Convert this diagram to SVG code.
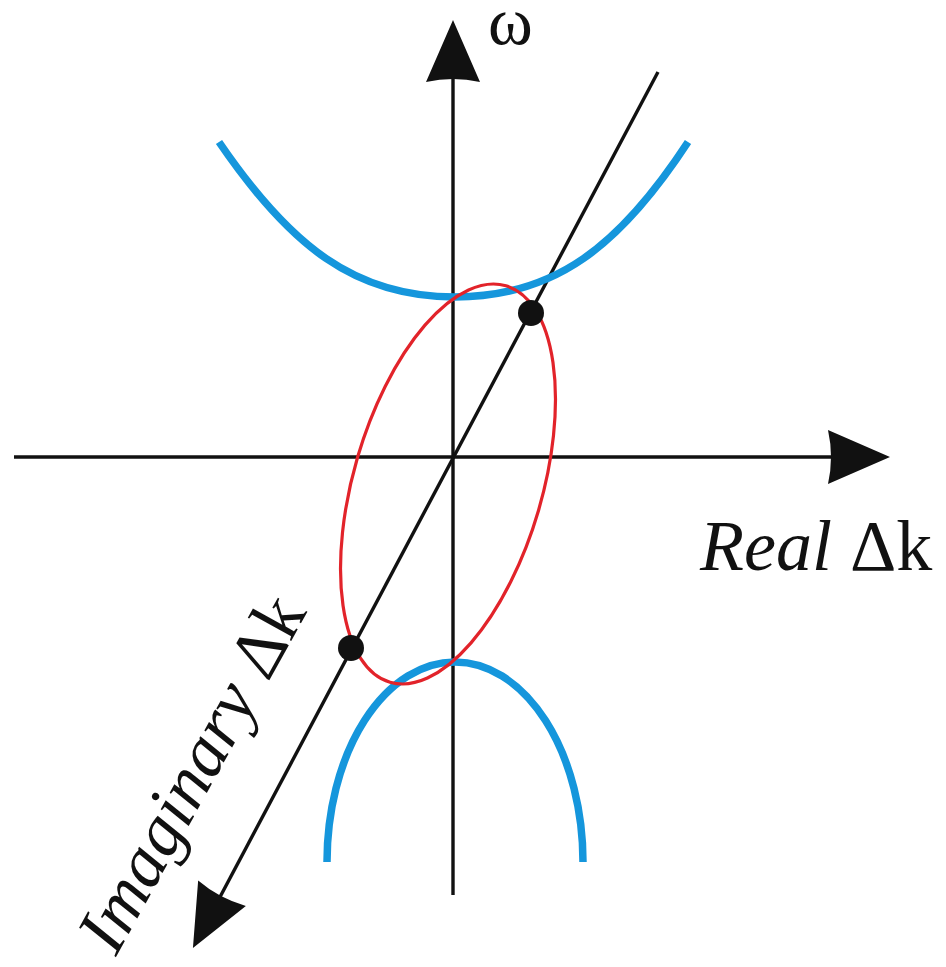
<svg xmlns="http://www.w3.org/2000/svg" width="946" height="967" viewBox="0 0 946 967">
<style>
.ax{stroke:#111;stroke-width:3.4;fill:none;marker-end:url(#ah)}
.band{stroke:#1596dc;stroke-width:7.5;fill:none}
.ell{stroke:#e2232a;stroke-width:3.2;fill:none}
.dot{fill:#111}
.lbl{font-family:"Liberation Serif","Times New Roman",serif;fill:#111}
</style>
<defs>
<marker id="ah" viewBox="-34 -30 66 60" refX="0" refY="0" markerWidth="66" markerHeight="60" markerUnits="userSpaceOnUse" orient="auto">
<path d="M30,0 L-32,-27 Q-26,0 -32,27 Z" fill="#111"/>
</marker>
</defs>
<rect width="946" height="967" fill="#fff"/>
<g id="connectors">
<line class="ax" x1="453" y1="895" x2="453" y2="50"/>
<line class="ax" x1="14" y1="457" x2="860" y2="457"/>
<line class="ax" x1="658" y1="72" x2="207" y2="921.5"/>
</g>
<g id="upper-band"><path class="band" d="M219,142 C290,246 355,297 455,297 C555,297 620,246 688,142"/></g>
<g id="lower-band"><path class="band" d="M327,862 A128,200 0 0 1 583,862"/></g>
<g id="ellipse"><ellipse class="ell" cx="448" cy="484" rx="206.5" ry="94.3" transform="rotate(-73.7 448 484)"/></g>
<g id="dot-upper"><circle class="dot" cx="531" cy="313" r="13"/></g>
<g id="dot-lower"><circle class="dot" cx="351" cy="648" r="13"/></g>
<g id="label-omega"><text class="lbl" x="488" y="44" font-size="68">ω</text></g>
<g id="label-real"><text class="lbl" x="700" y="570" font-size="72"><tspan font-style="italic">Real</tspan> Δk</text></g>
<g id="label-imag"><text class="lbl" x="0" y="0" font-size="71" transform="translate(116 957) rotate(-61)"><tspan font-style="italic">Imaginary</tspan> Δk</text></g>
</svg>
